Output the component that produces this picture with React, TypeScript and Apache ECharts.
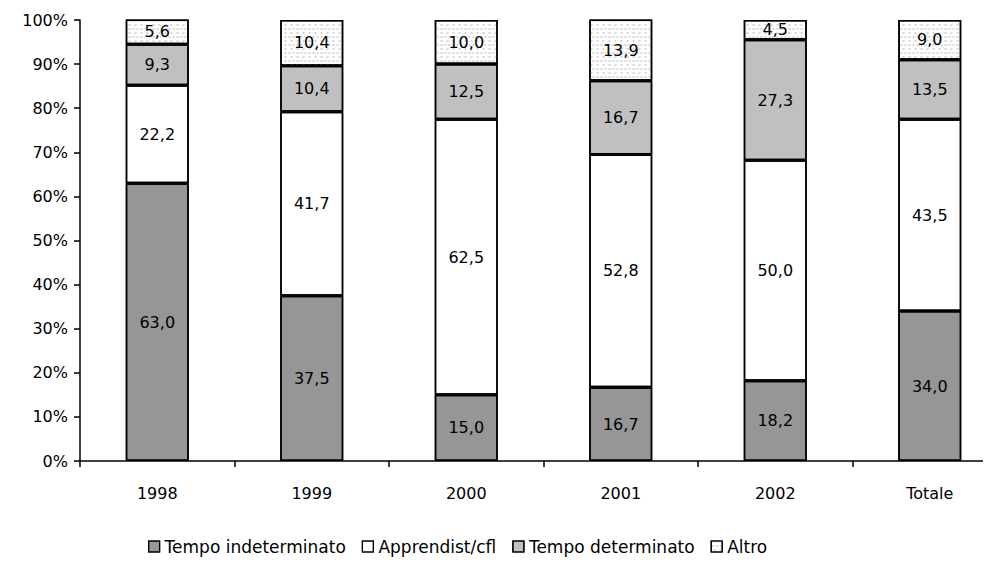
import React, { useEffect, useRef } from "react";
import * as echarts from "echarts";

const categories = ["1998", "1999", "2000", "2001", "2002", "Totale"];
const tempoIndeterminato = [63.0, 37.5, 15.0, 16.7, 18.2, 34.0];
const apprendist = [22.2, 41.7, 62.5, 52.8, 50.0, 43.5];
const tempoDeterminato = [9.3, 10.4, 12.5, 16.7, 27.3, 13.5];
const altro = [5.6, 10.4, 10.0, 13.9, 4.5, 9.0];

const FONT = "DejaVu Sans";

export default function App() {
  const ref = useRef<HTMLDivElement>(null);
  useEffect(() => {
    if (!ref.current) return;
    const chart = echarts.init(ref.current, null, { renderer: "svg" });
    const label = {
      show: true,
      position: "inside",
      color: "#000",
      fontFamily: FONT,
      fontSize: 16,
      formatter: (p: any) => Number(p.value).toFixed(1).replace(".", ","),
    };
    const noDecal = { symbol: "none" };
    const mk = (name: string, data: number[], color: string, decal: any) => ({
      name,
      type: "bar",
      stack: "tot",
      data,
      barWidth: 63,
      label,
      itemStyle: { color, borderColor: "#000", borderWidth: 1.5, decal },
    });
    chart.setOption({
      animation: false,
      aria: { enabled: true, decal: { show: true } },
      grid: { left: 80, right: 0, top: 20, bottom: 104, containLabel: false },
      legend: {
        bottom: 5,
        left: 143,
        itemWidth: 11,
        itemHeight: 11,
        itemGap: 16,
        icon: "rect",
        textStyle: { fontFamily: FONT, fontSize: 17, color: "#000" },
        itemStyle: { borderColor: "#000", borderWidth: 1.2 },
        data: ["Tempo indeterminato", "Apprendist/cfl", "Tempo determinato", "Altro"],
      },
      xAxis: {
        type: "category",
        data: categories,
        axisLine: { lineStyle: { color: "#000", width: 1.5 } },
        axisTick: { show: true, length: 6, lineStyle: { color: "#000", width: 1.5 } },
        axisLabel: { fontFamily: FONT, fontSize: 16, color: "#000", margin: 24 },
      },
      yAxis: {
        type: "value",
        min: 0,
        max: 100,
        interval: 10,
        splitLine: { show: false },
        axisLine: { show: true, lineStyle: { color: "#000", width: 1.5 } },
        axisTick: { show: true, length: 6, lineStyle: { color: "#000", width: 1.5 } },
        axisLabel: {
          fontFamily: FONT,
          fontSize: 16,
          color: "#000",
          margin: 12,
          formatter: "{value}%",
        },
      },
      series: [
        mk("Tempo indeterminato", tempoIndeterminato, "#969696", noDecal),
        mk("Apprendist/cfl", apprendist, "#ffffff", noDecal),
        mk("Tempo determinato", tempoDeterminato, "#c0c0c0", noDecal),
        mk("Altro", altro, "#ffffff", {
          symbol: "rect",
          symbolSize: 0.7,
          dashArrayX: [[3, 1], [0, 2, 3, 1]],
          dashArrayY: [2, 2],
          color: "#c8c8c8",
          backgroundColor: "#f4f4f4",
        }),
      ],
    });
    return () => chart.dispose();
  }, []);
  return (
    <div style={{ width: 991, height: 565, margin: -8, overflow: "hidden", position: "relative" }}>
      <div ref={ref} style={{ width: 1007, height: 565 }} />
    </div>
  );
}
